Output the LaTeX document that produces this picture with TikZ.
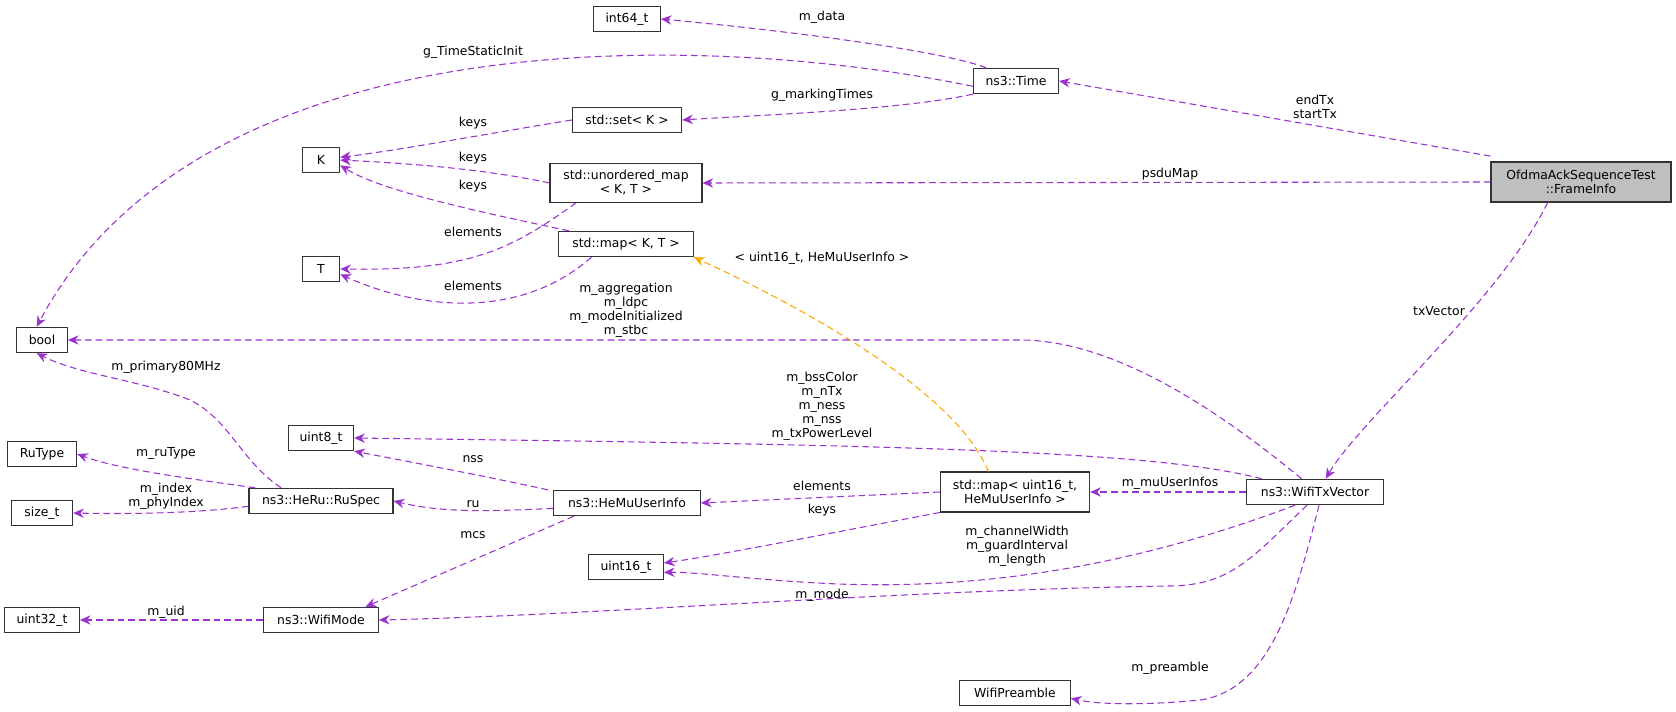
\documentclass[tikz,border=0pt]{standalone}
\usepackage{fontspec}
\setmainfont{DejaVu Sans}
\usetikzlibrary{arrows.meta}
\definecolor{ep}{HTML}{9A32CD}
\definecolor{eo}{HTML}{FFA500}
\begin{document}
\begin{tikzpicture}[x=0.75pt,y=-0.75pt,font=\fontsize{9.3}{10.5}\selectfont,
 box/.style={draw=black!80,fill=white,inner sep=2pt,align=center,minimum height=19pt,line width=0.8pt},
 e/.style={draw=ep,dash pattern=on 5pt off 3pt,line width=0.8pt,-{Stealth[length=8pt,width=7pt]}},
 o/.style={draw=eo,dash pattern=on 5pt off 3pt,line width=0.8pt,-{Stealth[length=8pt,width=7pt,fill=eo]}},
 l/.style={align=center,inner sep=0pt}]
\useasboundingbox (0,0) rectangle (1676,712);
\node[box,minimum width=50pt] (int64) at (627,19) {int64\_t};
\node[box,minimum width=64pt] (time) at (1016,81) {ns3::Time};
\node[box,minimum width=82pt] (set) at (627,120) {std::set\textless{} K \textgreater{}};
\node[box,minimum width=28pt] (K) at (321,160) {K};
\node[box,minimum width=114pt,minimum height=29pt] (umap) at (626,183) {std::unordered\_map\\\textless{} K, T \textgreater{}};
\node[box,minimum width=28pt] (T) at (321,269) {T};
\node[box,minimum width=101pt] (map) at (626,244) {std::map\textless{} K, T \textgreater{}};
\node[box,minimum width=38pt] (bool) at (42,340) {bool};
\node[box,fill=black!25,minimum width=135pt,minimum height=30pt] (fi) at (1581,182) {OfdmaAckSequenceTest\\::FrameInfo};
\node[box,minimum width=49pt] (u8) at (321,438) {uint8\_t};
\node[box,minimum width=52pt] (rut) at (42,454) {RuType};
\node[box,minimum width=108pt] (rus) at (321,501) {ns3::HeRu::RuSpec};
\node[box,minimum width=46pt] (sz) at (42,513) {size\_t};
\node[box,minimum width=110pt] (hmu) at (627,503) {ns3::HeMuUserInfo};
\node[box,minimum width=112pt,minimum height=30pt] (mapu) at (1015,492) {std::map\textless{} uint16\_t,\\HeMuUserInfo \textgreater{}};
\node[box,minimum width=103pt] (txv) at (1315,492) {ns3::WifiTxVector};
\node[box,minimum width=56pt] (u16) at (626,567) {uint16\_t};
\node[box,minimum width=56pt] (u32) at (42,620) {uint32\_t};
\node[box,minimum width=86pt] (wm) at (321,620) {ns3::WifiMode};
\node[box,minimum width=83pt] (wp) at (1015,693) {WifiPreamble};

\coordinate (tA) at ([xshift=10pt]time.north west);
\draw[e] (tA) .. controls (940,50) and (780,30) .. (int64.east);
\node[l] at (822,17) {m\_data};
\draw[e] ([yshift=-4pt]time.west) .. controls (700,30) and (200,20) .. ([xshift=-4pt]bool.north);
\node[l] at (473,52) {g\_TimeStaticInit};
\draw[e] (time.south west) .. controls (900,110) and (760,115) .. (set.east);
\node[l] at (822,95) {g\_markingTimes};
\draw[e] ([yshift=4pt]fi.west |- fi.north) -- (time.east);
\node[l] at (1315,107) {endTx\\startTx};
\draw[e] (fi.west) -- (umap.east);
\node[l] at (1170,174) {psduMap};
\draw[e] ([xshift=-25pt]fi.south) .. controls (1500,300) and (1360,420) .. ([xshift=8pt]txv.north);
\node[l] at (1439,311) {txVector};
\draw[e] (set.west) .. controls (480,135) and (400,150) .. ([yshift=2pt]K.east);
\node[l] at (473,123) {keys};
\draw[e] (umap.west) .. controls (480,168) and (400,163) .. (K.east);
\node[l] at (473,158) {keys};
\draw[e] ([xshift=8pt]map.north west) .. controls (470,210) and (380,190) .. ([yshift=-4pt]K.east);
\node[l] at (473,186) {keys};
\draw[e] ([xshift=20pt]umap.south west) .. controls (510,250) and (470,271) .. (T.east);
\node[l] at (473,232) {elements};
\draw[e] ([xshift=25pt]map.south west) .. controls (520,320) and (420,310) .. ([yshift=-4pt]T.east);
\node[l] at (473,286) {elements};
\draw[o] ([xshift=-20pt]mapu.north) .. controls (960,400) and (830,320) .. (map.south east);
\node[l] at (822,258) {\textless{} uint16\_t, HeMuUserInfo \textgreater{}};
\draw[e] ([xshift=-10pt]txv.north) .. controls (1230,420) and (1120,340) .. (1020,340) -- (bool.east);
\node[l] at (626,310) {m\_aggregation\\m\_ldpc\\m\_modeInitialized\\m\_stbc};
\draw[e] ([xshift=12pt]txv.north west) .. controls (1150,450) and (900,445) .. (u8.east);
\node[l] at (822,406) {m\_bssColor\\m\_nTx\\m\_ness\\m\_nss\\m\_txPowerLevel};
\draw[e] ([xshift=-30pt]rus.north) .. controls (240,460) and (230,420) .. (190,400) .. controls (140,380) and (80,375) .. ([xshift=-4pt]bool.south);
\node[l] at (166,367) {m\_primary80MHz};
\draw[e] ([xshift=5pt]rus.north west) .. controls (200,480) and (120,470) .. (rut.east);
\node[l] at (166,453) {m\_ruType};
\draw[e] ([yshift=-4pt]rus.west) .. controls (190,514) and (120,514) .. (sz.east);
\node[l] at (166,496) {m\_index\\m\_phyIndex};
\draw[e] ([xshift=-4pt]hmu.north west) .. controls (480,475) and (400,460) .. (u8.south east);
\node[l] at (473,459) {nss};
\draw[e] ([yshift=-4pt]hmu.west) .. controls (480,512) and (440,512) .. (rus.east);
\node[l] at (473,504) {ru};
\draw[e] ([xshift=-40pt]hmu.south) -- ([xshift=-10pt]wm.north east);
\node[l] at (473,535) {mcs};
\draw[e] (mapu.west) -- (hmu.east);
\node[l] at (822,486) {elements};
\draw[e] (mapu.south west) .. controls (820,535) and (720,555) .. ([yshift=3pt]u16.east);
\node[l] at (822,510) {keys};
\draw[e] (txv.west) -- (mapu.east);
\node[l] at (1170,483) {m\_muUserInfos};
\draw[e] ([xshift=-15pt]txv.south) .. controls (1150,560) and (1000,590) .. (838,584) .. controls (750,580) and (700,572) .. ([yshift=-4pt]u16.east);
\node[l] at (1017,546) {m\_channelWidth\\m\_guardInterval\\m\_length};
\draw[e] ([xshift=-6pt]txv.south) .. controls (1250,560) and (1230,585) .. (1170,586) .. controls (900,590) and (600,615) .. (wm.east);
\node[l] at (822,595) {m\_mode};
\draw[e] ([xshift=3pt]txv.south) .. controls (1295,600) and (1270,690) .. (1200,700) .. controls (1150,705) and (1100,705) .. ([yshift=-4pt]wp.east);
\node[l] at (1170,668) {m\_preamble};
\draw[e] (wm.west) -- (u32.east);
\node[l] at (166,612) {m\_uid};
\end{tikzpicture}
\end{document}
